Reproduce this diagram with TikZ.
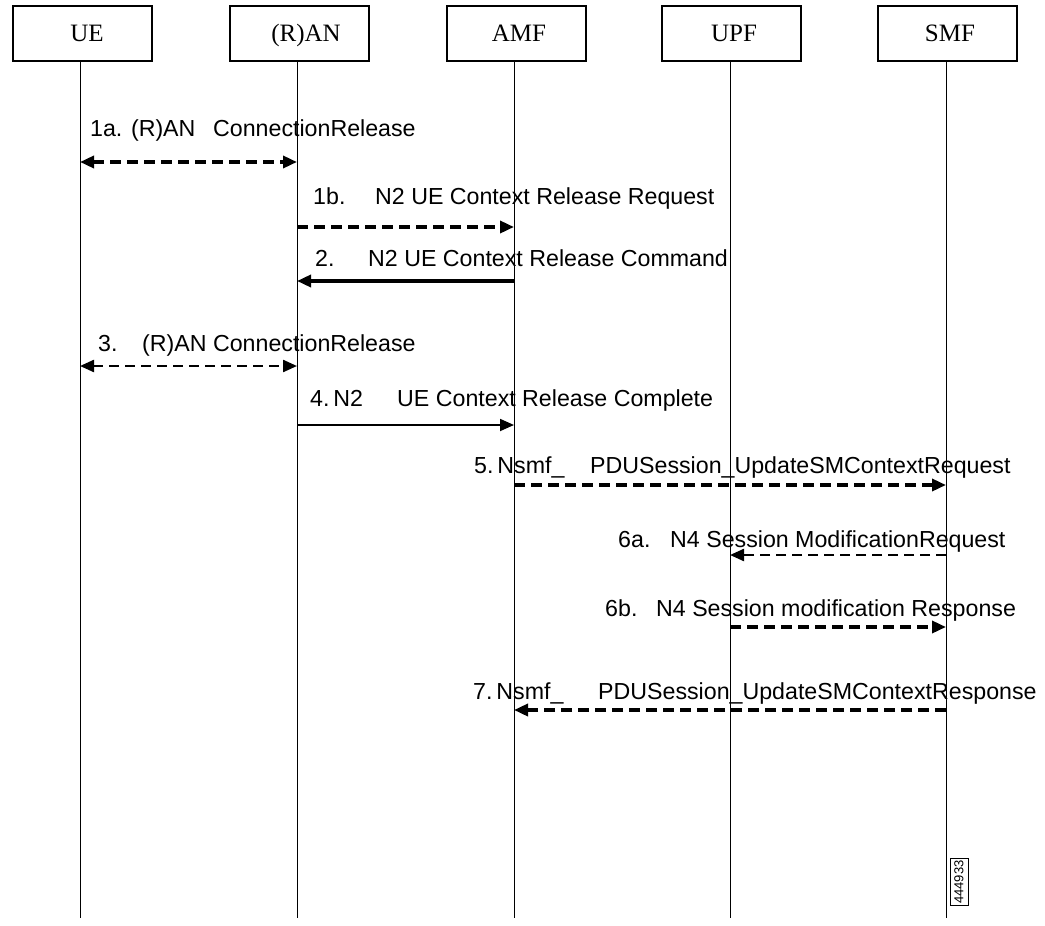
\documentclass[tikz,border=0pt]{standalone}
\usepackage{fontspec}
\setmainfont{Liberation Sans}
\newfontfamily\boxfont{Liberation Serif}
\usetikzlibrary{arrows.meta}
\begin{document}
\begin{tikzpicture}[x=1pt,y=-1pt,
  actor/.style={draw, line width=2pt, minimum width=139pt, minimum height=55pt,
                inner sep=0pt, text height=16pt, text depth=0pt,
                font=\boxfont\fontsize{25}{27}\selectfont},
  life/.style={line width=0.9pt},
  tip/.style={-{Triangle[length=14pt,width=12pt]}},
  bothtips/.style={{Triangle[length=14pt,width=12pt]}-{Triangle[length=14pt,width=12pt]}},
  heavydash/.style={line width=3.4pt, dash pattern=on 11pt off 6pt},
  lightdash/.style={line width=2.3pt, dash pattern=on 10pt off 6pt},
  heavysolid/.style={line width=3.4pt},
  lightsolid/.style={line width=1.8pt},
  lbl/.style={anchor=base west, inner sep=0pt, font=\fontsize{23.2}{26}\selectfont}
]
\useasboundingbox (0,0) rectangle (1045,926);

% participants (labels sit a little right of centre)
\node[actor] (ue)  at (82,33.5)  {\hspace{10pt}UE};
\node[actor] (ran) at (299,33.5) {\hspace{14pt}(R)AN};
\node[actor] (amf) at (516,33.5) {\hspace{6pt}AMF};
\node[actor] (upf) at (731,33.5) {\hspace{6pt}UPF};
\node[actor] (smf) at (947,33.5) {\hspace{6pt}SMF};

% lifelines
\foreach \n/\x in {ue/80, ran/297, amf/514, upf/730, smf/946}{
  \coordinate (\n-top) at (\x,61);
  \coordinate (\n-end) at (\x,918);
  \draw[life] (\n-top) -- (\n-end);
}

% message anchor points on the lifelines
\foreach \m/\y in {m1a/162, m1b/227, m2/281, m3/366, m4/425, m5/485, m6a/555, m6b/627, m7/710}{
  \foreach \n in {ue,ran,amf,upf,smf}{
    \coordinate (\n-\m) at (\n-top |- 0,\y);
  }
}

% 1a
\node[lbl] (t1a) at (90,136) {\makebox[123pt][l]{1a. (R)AN}ConnectionRelease};
\draw[heavydash, bothtips] (ue-m1a) -- (ran-m1a);
% 1b
\node[lbl] (t1b) at (313,204) {\makebox[62pt][l]{1b.}N2 UE Context Release Request};
\draw[heavydash, tip] (ran-m1b) -- (amf-m1b);
% 2
\node[lbl] (t2) at (315,266) {\makebox[53pt][l]{2.}N2 UE Context Release Command};
\draw[heavysolid, tip] (amf-m2) -- (ran-m2);
% 3
\node[lbl] (t3) at (98,351) {\makebox[44pt][l]{3.}(R)AN ConnectionRelease};
\draw[lightdash, bothtips] (ue-m3) -- (ran-m3);
% 4
\node[lbl] (t4) at (310,406) {\makebox[87pt][l]{4.\,N2}UE Context Release Complete};
\draw[lightsolid, tip] (ran-m4) -- (amf-m4);
% 5
\node[lbl] (t5) at (474,473) {\makebox[116pt][l]{5.\,Nsmf\_}PDUSession\_UpdateSMContextRequest};
\draw[heavydash, tip] (amf-m5) -- (smf-m5);
% 6a
\node[lbl] (t6a) at (618,547) {\makebox[52pt][l]{6a.}N4 Session ModificationRequest};
\draw[lightdash, tip] (smf-m6a) -- (upf-m6a);
% 6b
\node[lbl] (t6b) at (605,616) {\makebox[51pt][l]{6b.}N4 Session modification Response};
\draw[heavydash, tip] (upf-m6b) -- (smf-m6b);
% 7
\node[lbl] (t7) at (473,699) {\makebox[125pt][l]{7.\,Nsmf\_}PDUSession\_UpdateSMContextResponse};
\draw[heavydash, tip] (smf-m7) -- (amf-m7);

% figure number tag
\node[draw, line width=0.8pt, rotate=90, inner sep=2pt, minimum height=18pt,
      font=\fontsize{13}{14}\selectfont] (tag) at (959,882) {444933};
\end{tikzpicture}
\end{document}
